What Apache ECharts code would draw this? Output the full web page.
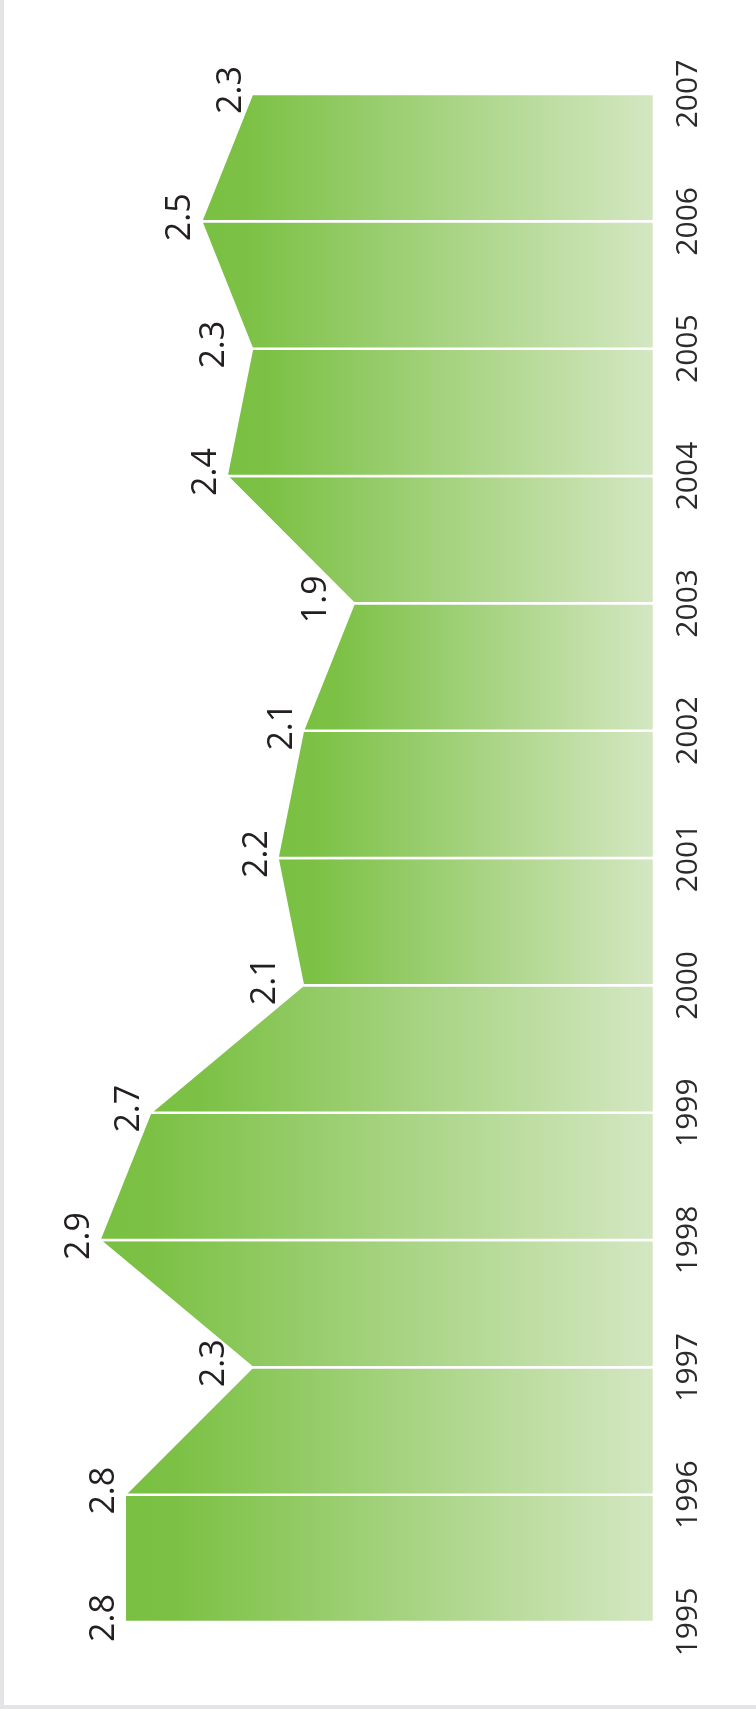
<!DOCTYPE html>
<html>
<head>
<meta charset="utf-8">
<style>
  html, body { margin: 0; padding: 0; background: #fff; }
  #chart {
    width: 756px;
    height: 1709px;
    background: #fff;
    box-shadow: inset 4px -4px 0 #e4e4e6;
  }
</style>
<script src="https://cdn.jsdelivr.net/npm/echarts@6/dist/echarts.min.js"></script>
</head>
<body>
<div id="chart"></div>
<script>
// data
let years = ['1995', '1996', '1997', '1998', '1999', '2000', '2001', '2002', '2003', '2004', '2005', '2006', '2007'];
let rates = [2.8, 2.8, 2.3, 2.9, 2.7, 2.1, 2.2, 2.1, 1.9, 2.4, 2.3, 2.5, 2.3];

let axisMin = 0.72;
let axisMax = 3.2;

let myChart = echarts.init(document.getElementById('chart'));

// one polygon per year-to-year step, each with its own gradient
function renderStep(params, api) {
  let i = params.dataIndex;
  if (i >= rates.length - 1) {
    return;
  }
  let p0 = api.coord([rates[i], i]);
  let p1 = api.coord([rates[i + 1], i + 1]);
  let b1 = api.coord([axisMin, i + 1]);
  let b0 = api.coord([axisMin, i]);
  return {
    type: 'polygon',
    shape: { points: [p0, p1, b1, b0] },
    style: {
      fill: new echarts.graphic.LinearGradient(0, 0, 1, 0, [
        { offset: 0, color: '#79c042' },
        { offset: 0.1, color: '#7cc145' },
        { offset: 1, color: '#d4e7c2' }
      ]),
      stroke: '#fff',
      lineWidth: 2.5
    }
  };
}

// labels in a notch sit further out so they clear the slanted edges
function isValley(i) {
  return i > 0 && i < rates.length - 1 && rates[i] < rates[i - 1] && rates[i] < rates[i + 1];
}

let option = {
  animation: false,
  grid: {
    left: 23,
    right: 102,
    top: 94,
    bottom: 87
  },
  xAxis: {
    type: 'value',
    inverse: true,
    min: axisMin,
    max: axisMax,
    show: false
  },
  yAxis: {
    type: 'category',
    data: years,
    boundaryGap: false,
    position: 'right',
    axisLine: { show: false },
    axisTick: { show: false },
    splitLine: { show: false },
    axisLabel: {
      interval: 0,
      rotate: 90,
      margin: 19,
      fontSize: 30,
      fontFamily: 'Open Sans',
      color: '#2b2b2b'
    }
  },
  series: [
    {
      type: 'custom',
      renderItem: renderStep,
      data: rates.map((v, i) => [v, i]),
      encode: { x: 0, y: 1 },
      z: 2
    },
    {
      type: 'line',
      data: rates.map((v, i) => ({
        value: v,
        label: { distance: isValley(i) ? 20 : 3 }
      })),
      symbol: 'circle',
      symbolSize: 1,
      itemStyle: { color: 'rgba(0,0,0,0)' },
      lineStyle: { width: 0, opacity: 0 },
      label: {
        show: true,
        position: 'left',
        // rotated frame: +x moves the text up the page
        offset: [4, 0],
        rotate: 90,
        align: 'center',
        verticalAlign: 'bottom',
        fontSize: 34,
        fontFamily: 'Open Sans',
        fontWeight: 500,
        color: '#231f20',
        formatter: p => p.value.toFixed(1)
      },
      z: 3
    }
  ]
};

myChart.setOption(option);
</script>
</body>
</html>
